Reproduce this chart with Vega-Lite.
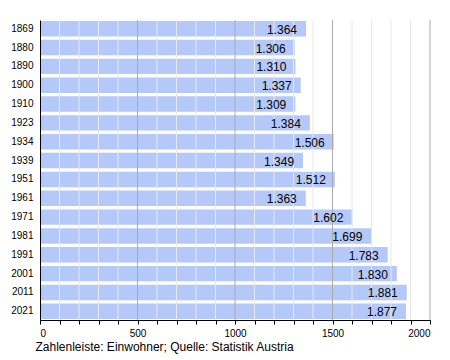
{
  "$schema": "https://vega.github.io/schema/vega-lite/v6.json",
  "width": 390,
  "height": 300,
  "autosize": {"type": "none"},
  "padding": {"left": 40, "top": 20, "right": 20, "bottom": 40},
  "background": "white",
  "config": {
    "font": "Liberation Sans",
    "view": {"stroke": null},
    "locale": {"number": {"decimal": ",", "thousands": ".", "grouping": [3], "currency": ["", ""]}}
  },
  "datasets": {
    "pop": [
      {"year": "1869", "pop": 1364},
      {"year": "1880", "pop": 1306},
      {"year": "1890", "pop": 1310},
      {"year": "1900", "pop": 1337},
      {"year": "1910", "pop": 1309},
      {"year": "1923", "pop": 1384},
      {"year": "1934", "pop": 1506},
      {"year": "1939", "pop": 1349},
      {"year": "1951", "pop": 1512},
      {"year": "1961", "pop": 1363},
      {"year": "1971", "pop": 1602},
      {"year": "1981", "pop": 1699},
      {"year": "1991", "pop": 1783},
      {"year": "2001", "pop": 1830},
      {"year": "2011", "pop": 1881},
      {"year": "2021", "pop": 1877}
    ],
    "grid": [
      {"v": 100, "major": false}, {"v": 200, "major": false}, {"v": 300, "major": false}, {"v": 400, "major": false},
      {"v": 500, "major": true},
      {"v": 600, "major": false}, {"v": 700, "major": false}, {"v": 800, "major": false}, {"v": 900, "major": false},
      {"v": 1000, "major": true},
      {"v": 1100, "major": false}, {"v": 1200, "major": false}, {"v": 1300, "major": false}, {"v": 1400, "major": false},
      {"v": 1500, "major": true},
      {"v": 1600, "major": false}, {"v": 1700, "major": false}, {"v": 1800, "major": false}, {"v": 1900, "major": false},
      {"v": 2000, "major": true}
    ]
  },
  "resolve": {"axis": {"x": "independent", "y": "independent"}},
  "layer": [
    {
      "data": {"name": "pop"},
      "mark": {"type": "bar", "color": "#b4c8f9"},
      "encoding": {
        "y": {
          "field": "year", "type": "nominal", "sort": null,
          "scale": {"paddingInner": 0.18, "paddingOuter": 0.05},
          "axis": {
            "title": null, "ticks": false, "labelFontSize": 10, "labelPadding": 7,
            "domainColor": "black", "labelColor": "black", "zindex": 2
          }
        },
        "x": {
          "field": "pop", "type": "quantitative",
          "scale": {"domain": [0, 2000], "nice": false},
          "axis": {
            "values": [0,100,200,300,400,500,600,700,800,900,1000,1100,1200,1300,1400,1500,1600,1700,1800,1900,2000],
            "labelExpr": "datum.value % 500 === 0 ? '' + datum.value : ''",
            "labelOverlap": false,
            "labelFontSize": 10,
            "labelColor": "black",
            "labelPadding": 4,
            "domainColor": "black",
            "tickColor": "black",
            "tickSize": 4,
            "grid": false,
            "zindex": 1,
            "title": "Zahlenleiste: Einwohner; Quelle: Statistik Austria",
            "titleFontSize": 12,
            "titleFontWeight": "normal",
            "titleColor": "black",
            "titleAnchor": "start",
            "titleAlign": "left",
            "titleBaseline": "top",
            "titleX": -5,
            "titleY": 21
          }
        }
      }
    },
    {
      "data": {"name": "grid"},
      "mark": {"type": "rule", "strokeWidth": 1},
      "encoding": {
        "x": {"field": "v", "type": "quantitative", "axis": null},
        "color": {
          "field": "major", "type": "nominal",
          "scale": {"domain": [false, true], "range": ["#e8e8e8", "#ababab"]},
          "legend": null
        }
      }
    },
    {
      "data": {"name": "pop"},
      "mark": {"type": "text", "align": "right", "dx": -9, "fontSize": 12, "color": "black", "baseline": "middle", "dy": 1},
      "encoding": {
        "y": {"field": "year", "type": "nominal", "sort": null, "axis": null},
        "x": {"field": "pop", "type": "quantitative", "axis": null},
        "text": {"field": "pop", "type": "quantitative", "format": ",d"}
      }
    }
  ]
}
